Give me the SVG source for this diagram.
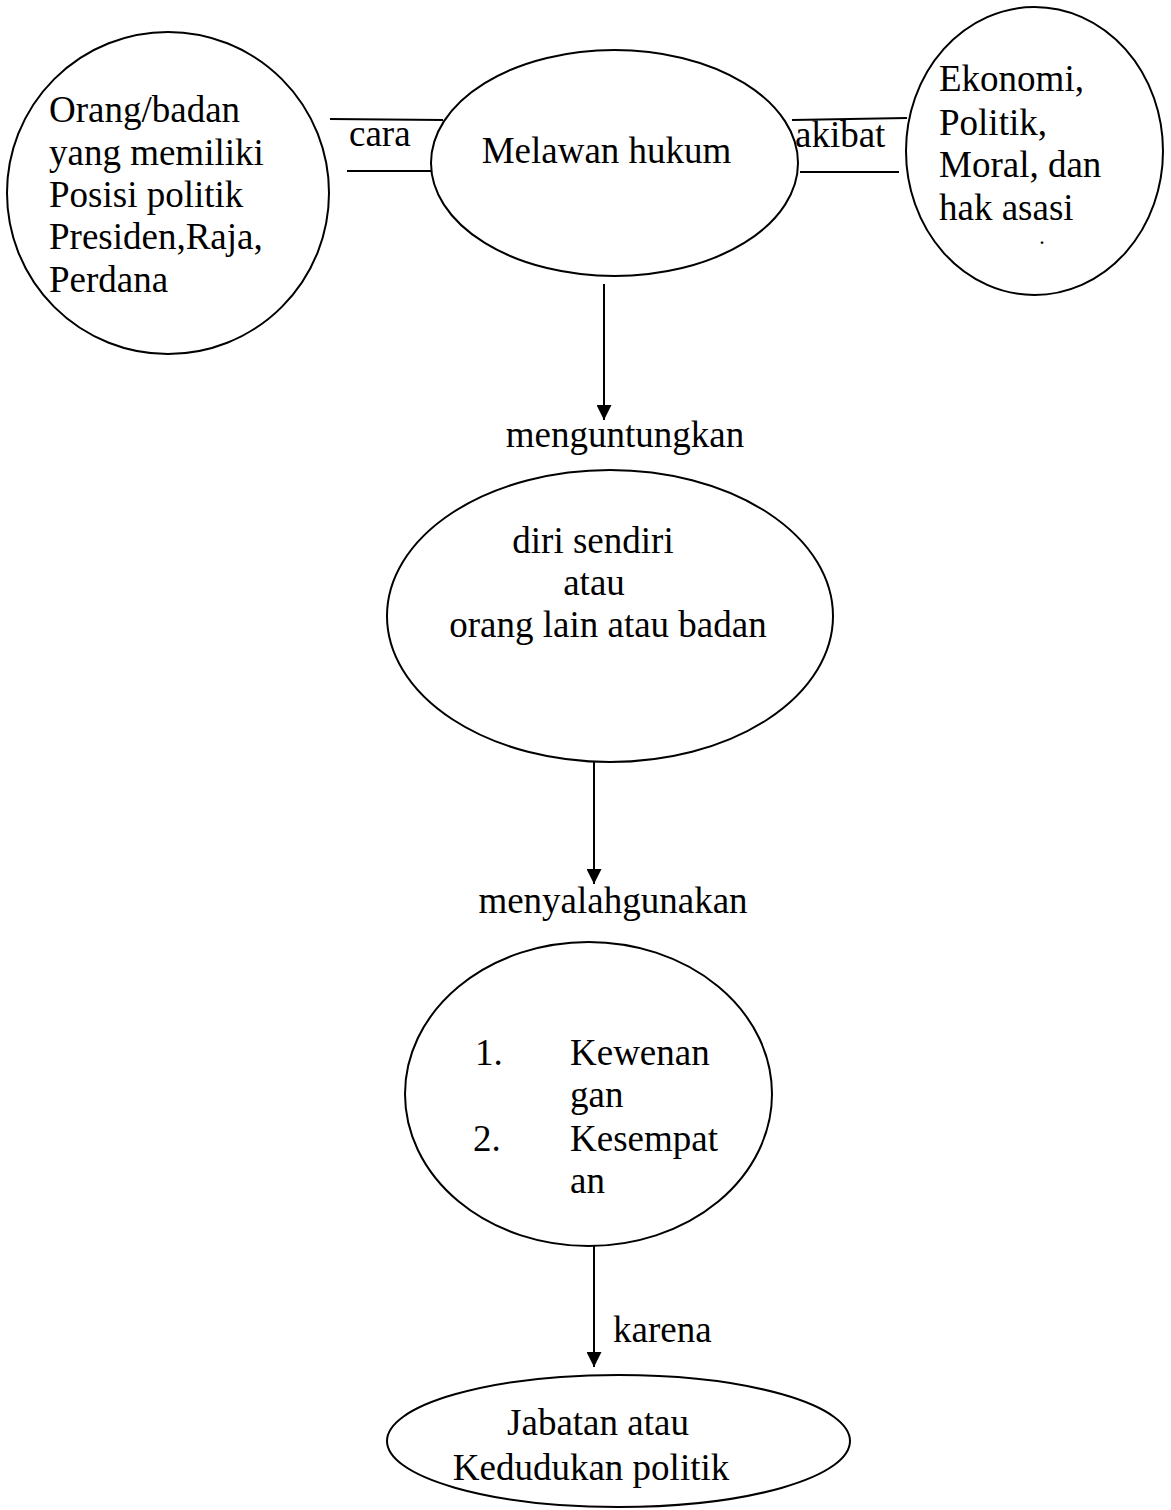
<svg xmlns="http://www.w3.org/2000/svg" width="1171" height="1510" viewBox="0 0 1171 1510">
<style>
  .shape { fill: #ffffff; stroke: #000000; stroke-width: 2; }
  .conn { stroke: #000000; stroke-width: 2; fill: none; }
  text { font-family: "Liberation Serif", "Times New Roman", serif; font-size: 37px; fill: #000000; }
</style>
<defs>
  <marker id="arrow" viewBox="0 0 10 10" refX="10" refY="5" markerWidth="7.5" markerHeight="7.5" markerUnits="strokeWidth" orient="auto">
    <path d="M0,0 L10,5 L0,10 Z" fill="#000000"/>
  </marker>
</defs>
<rect width="1171" height="1510" fill="#ffffff"/>

<g id="connectors">
  <line class="conn" x1="330" y1="119" x2="443" y2="120"/>
  <line class="conn" x1="347" y1="171" x2="432" y2="171"/>
  <line class="conn" x1="792" y1="120" x2="907" y2="118"/>
  <line class="conn" x1="800" y1="172" x2="899" y2="172"/>
  <line class="conn" x1="604" y1="284" x2="604" y2="420" marker-end="url(#arrow)"/>
  <line class="conn" x1="594" y1="762" x2="594" y2="884" marker-end="url(#arrow)"/>
  <line class="conn" x1="594" y1="1246" x2="594" y2="1367" marker-end="url(#arrow)"/>
  <text x="349" y="146">cara</text>
  <text x="795" y="147">akibat</text>
  <text x="625" y="447" text-anchor="middle">menguntungkan</text>
  <text x="613" y="913" text-anchor="middle">menyalahgunakan</text>
  <text x="613" y="1342">karena</text>
</g>

<g id="node-orang">
  <ellipse class="shape" cx="168" cy="193" rx="161" ry="161"/>
  <text x="49" y="122">Orang/badan</text>
  <text x="49" y="165">yang memiliki</text>
  <text x="49" y="207">Posisi politik</text>
  <text x="49" y="249">Presiden,Raja,</text>
  <text x="49" y="292">Perdana</text>
</g>

<g id="node-melawan">
  <ellipse class="shape" cx="614.5" cy="163" rx="183.5" ry="113"/>
  <text x="606.5" y="163" text-anchor="middle">Melawan hukum</text>
</g>

<g id="node-ekonomi">
  <ellipse class="shape" cx="1034.5" cy="151" rx="128.5" ry="144"/>
  <text x="939" y="91">Ekonomi,</text>
  <text x="939" y="135">Politik,</text>
  <text x="939" y="177">Moral, dan</text>
  <text x="939" y="220">hak asasi</text>
  <text x="1040" y="244" style="font-size:16px;font-weight:bold">.</text>
</g>

<g id="node-diri">
  <ellipse class="shape" cx="610" cy="616" rx="223" ry="146"/>
  <text x="593" y="553" text-anchor="middle">diri sendiri</text>
  <text x="594" y="595" text-anchor="middle">atau</text>
  <text x="608" y="637" text-anchor="middle">orang lain atau badan</text>
</g>

<g id="node-kewenangan">
  <ellipse class="shape" cx="588.5" cy="1094" rx="183.5" ry="152"/>
  <text x="475" y="1065">1.</text>
  <text x="570" y="1065">Kewenan</text>
  <text x="570" y="1107">gan</text>
  <text x="473" y="1151">2.</text>
  <text x="570" y="1151">Kesempat</text>
  <text x="570" y="1193">an</text>
</g>

<g id="node-jabatan">
  <ellipse class="shape" cx="618.5" cy="1441" rx="231.5" ry="66"/>
  <text x="598" y="1435" text-anchor="middle">Jabatan atau</text>
  <text x="591" y="1480" text-anchor="middle">Kedudukan politik</text>
</g>
</svg>
